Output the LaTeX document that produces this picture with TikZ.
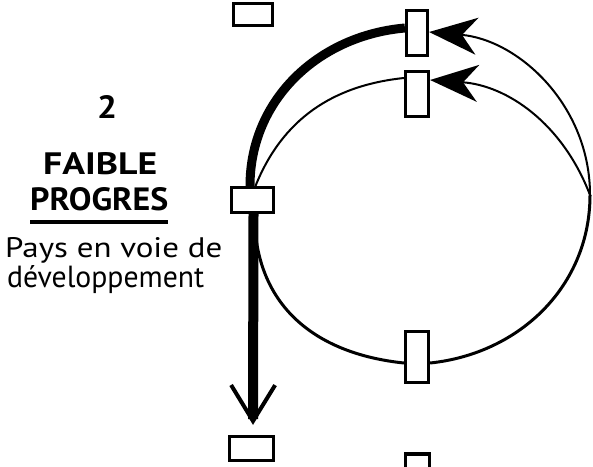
\documentclass[tikz,border=0pt]{standalone}
\usepackage{fontspec}
\setmainfont{PT Sans}
\usetikzlibrary{arrows.meta}
\begin{document}
\begin{tikzpicture}[x=1pt,y=1pt,
  box/.style={draw, line width=3.2pt, fill=white, inner sep=0pt},
  thinarc/.style={line width=2pt},
  lowarc/.style={line width=3pt},
  heavy/.style={line width=9pt},
  bigtip/.style={-{Stealth[length=48pt,width=37pt,inset=15pt]}},
  downtip/.style={-{Straight Barb[length=36pt,width=44pt,line width=4pt]}},
  lbl/.style={inner sep=0pt, anchor=base west}]
\useasboundingbox (0,-466) rectangle (593,0);
\clip (0,-466) rectangle (593,0);
\fill[white] (0,-466) rectangle (593,0);

\node[box, minimum width=39pt, minimum height=22pt] (TL) at (253,-14.5) {};
\node[box, minimum width=21pt, minimum height=45pt] (T1) at (417,-33) {};
\node[box, minimum width=23pt, minimum height=45pt] (T2) at (417,-94) {};
\node[box, minimum width=42pt, minimum height=25pt] (L) at (252.5,-200) {};
\node[box, minimum width=23pt, minimum height=51pt] (B) at (417,-357) {};
\node[box, minimum width=44pt, minimum height=24pt] (BL) at (251.5,-448.5) {};
\node[box, minimum width=24pt, minimum height=40pt] (BM) at (417.5,-474) {};
\coordinate (R) at (590,-195);

\draw[heavy] ([xshift=-2.5pt]L.north) to[out=90,in=185] ([yshift=5pt]T1.west);
\draw[thinarc] ([xshift=3pt]L.north) to[out=68,in=186] ([yshift=16pt]T2.west);
\draw[thinarc,bigtip] (R) to[out=90,in=-5] ([yshift=1pt]T1.east);
\draw[thinarc,bigtip] (R) to[out=111,in=-4] ([yshift=14pt]T2.east);
\draw[lowarc] ([xshift=2pt]L.south) to[out=-90,in=174,looseness=1.1] ([yshift=-6pt]B.west);
\draw[lowarc] ([yshift=-6pt]B.east) to[out=6,in=-90] (R);
\draw[line width=10pt, downtip] ([xshift=1pt]L.south) -- ([xshift=1.5pt,yshift=10pt]BL.north);

\node[lbl] (n2) at (97,-118) {\resizebox{20pt}{23pt}{\textbf{2}}};
\node[lbl] (t1) at (43,-174) {\resizebox{114pt}{22pt}{\textbf{FAIBLE}}};
\node[lbl] (t2) at (30,-210) {\resizebox{138pt}{23pt}{\textbf{PROGRES}}};
\draw[line width=3.5pt] ([yshift=-12pt]t2.base west) -- ([yshift=-12pt]t2.base east);
\node[lbl] (t3) at (5,-257) {\resizebox{217pt}{20pt}{Pays en voie de}};
\node[lbl] (t4) at (7,-287) {\resizebox{197pt}{22pt}{développement}};
\end{tikzpicture}
\end{document}
